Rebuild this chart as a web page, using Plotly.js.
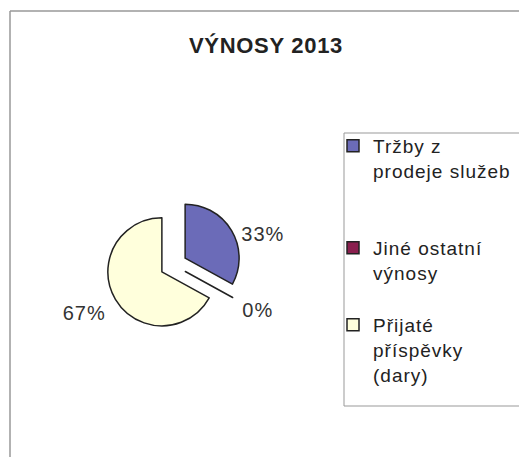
<!DOCTYPE html>
<html>
<head>
<meta charset="utf-8">
<script src="https://cdn.plot.ly/plotly-3.0.1.min.js"></script>
<style>html,body{margin:0;padding:0;background:#fff;}#chart{width:519px;height:457px;}</style>
</head>
<body>
<div id="chart"></div>
<script>
// Data
const title = 'VÝNOSY 2013';
const categories = ['Tržby z prodeje služeb', 'Jiné ostatní výnosy', 'Přijaté příspěvky (dary)'];
const legendLines = [['Tržby z', 'prodeje služeb'], ['Jiné ostatní', 'výnosy'], ['Přijaté', 'příspěvky', '(dary)']];
const values = [33, 0, 67];
const colors = ['#6b6bb8', '#8a1f4e', '#ffffdc'];

// display labels (layout only: letter spacing + spacing lines)
const ls = s => '<span style="letter-spacing:1px">' + s + '</span>';
const padLines = [2, 1, 0];
const displayLabels = legendLines.map((lines, i) => lines.map(ls).join('<br>') + '<br> '.repeat(padLines[i]));

const FONT = 'Liberation Sans, Arial, sans-serif';
const W = 519, H = 457;

// percent label: a small spacer line above pushes the label outward/down like the original
const pctTemplate = ' <br><span style="font-size:20px;letter-spacing:1px">%{percent:.0%}</span>';

const trace = {
  type: 'pie',
  labels: displayLabels,
  values: values,
  sort: false,
  direction: 'clockwise',
  rotation: 0,
  pull: [0.25, 0.25, 0.25],
  marker: {colors: colors, line: {color: '#222', width: 1.5}},
  textposition: 'outside',
  texttemplate: pctTemplate,
  textfont: {family: FONT, size: 16, color: '#333'},
  hoverinfo: 'none',
  domain: {x: [106/W, 241/W], y: [124.5/H, 259.5/H]}
};

const layout = {
  width: W, height: H,
  margin: {l: 0, r: 0, t: 0, b: 0},
  paper_bgcolor: '#fff',
  title: {text: '<b><span style="letter-spacing:0.7px">' + title + '</span></b>', x: 266/W, xanchor: 'center', y: 1 - 45/H, yanchor: 'middle',
          font: {family: FONT, size: 22, color: '#222'}},
  showlegend: true,
  legend: {x: 333/W, xanchor: 'left', y: 1 - 127/H, yanchor: 'top', valign: 'top',
           borderwidth: 0, bgcolor: 'rgba(0,0,0,0)',
           font: {family: FONT, size: 19, color: '#222'}},
  shapes: [
    {type: 'line', xref: 'paper', yref: 'paper', x0: 10/W, x1: 10/W, y0: 0, y1: 1 - 11/H, line: {color: '#999', width: 1.5}},
    {type: 'line', xref: 'paper', yref: 'paper', x0: 10/W, x1: 1, y0: 1 - 11/H, y1: 1 - 11/H, line: {color: '#999', width: 1.5}},
    {type: 'rect', xref: 'paper', yref: 'paper', x0: 344/W, x1: 530/W, y0: 1 - 406/H, y1: 1 - 133/H, line: {color: '#999', width: 1}, layer: 'below'}
  ]
};

Plotly.newPlot('chart', [trace], layout, {displayModeBar: false, staticPlot: true});
</script>
</body>
</html>
